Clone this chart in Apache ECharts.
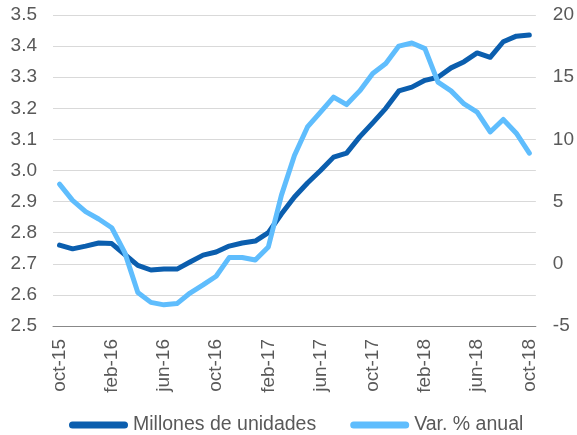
<!DOCTYPE html>
<html>
<head>
<meta charset="utf-8">
<script src="https://cdn.jsdelivr.net/npm/echarts@6/dist/echarts.min.js"></script>
<style>
  html, body { margin: 0; padding: 0; background: #fff; }
  #chart { width: 577px; height: 435px; }
</style>
</head>
<body>
<div id="chart"></div>
<script>
"use strict";

// months oct-15 .. oct-18
var months = ['oct-15','nov-15','dic-15','ene-16','feb-16','mar-16','abr-16','may-16','jun-16','jul-16','ago-16','sep-16',
  'oct-16','nov-16','dic-16','ene-17','feb-17','mar-17','abr-17','may-17','jun-17','jul-17','ago-17','sep-17',
  'oct-17','nov-17','dic-17','ene-18','feb-18','mar-18','abr-18','may-18','jun-18','jul-18','ago-18','sep-18','oct-18'];

var millones = [2.76, 2.748, 2.757, 2.767, 2.765, 2.73, 2.695, 2.68, 2.683, 2.683, 2.706, 2.728,
  2.738, 2.757, 2.767, 2.773, 2.80, 2.86, 2.915, 2.96, 3.0, 3.043, 3.056, 3.108,
  3.153, 3.20, 3.256, 3.268, 3.29, 3.30, 3.33, 3.35, 3.378, 3.364, 3.414, 3.432, 3.436];

var varAnual = [6.4, 5.1, 4.2, 3.6, 2.9, 0.9, -2.3, -3.1, -3.3, -3.2, -2.35, -1.7,
  -1.0, 0.5, 0.5, 0.3, 1.35, 5.5, 8.7, 11.0, 12.2, 13.4, 12.8, 13.9,
  15.3, 16.1, 17.5, 17.75, 17.3, 14.6, 13.9, 12.85, 12.2, 10.6, 11.6, 10.5, 8.9];

var seriesNames = ['Millones de unidades', 'Var. % anual'];

var txtColor = '#595959';
var font = '"Liberation Sans", Arial, sans-serif';
var pill = 'path://M3.5,0 H55.5 A3.5,3.5 0 0 1 55.5,7 H3.5 A3.5,3.5 0 0 1 3.5,0 Z';

var chart = echarts.init(document.getElementById('chart'));
var option = {
  animation: false,
  color: ['#0b5eae', '#5fbdfd'],
  grid: { left: 53, right: 40, top: 15, bottom: 109 },
  legend: {
    top: 410,
    left: 64,
    itemWidth: 59,
    itemHeight: 7,
    itemGap: 34,
    icon: pill,
    textStyle: { color: txtColor, fontFamily: font, fontSize: 19.5 },
    data: seriesNames
  },
  xAxis: {
    type: 'category',
    data: months,
    boundaryGap: true,
    axisLine: { onZero: false, lineStyle: { color: '#888', width: 1 } },
    axisTick: { interval: 3, length: 6, lineStyle: { color: '#888' } },
    axisLabel: {
      interval: 3,
      rotate: 90,
      margin: 13,
      color: txtColor,
      fontFamily: font,
      fontSize: 19
    }
  },
  yAxis: [{
    type: 'value',
    min: 2.5, max: 3.5, interval: 0.1,
    axisLine: { show: false },
    axisTick: { show: false },
    axisLabel: {
      margin: 16, color: txtColor, fontFamily: font, fontSize: 19,
      formatter: function (v) { return v.toFixed(1); }
    },
    splitLine: { lineStyle: { color: '#d9d9d9', width: 1 } }
  }, {
    type: 'value',
    min: -5, max: 20, interval: 5,
    axisLine: { show: false },
    axisTick: { show: false },
    axisLabel: { margin: 17, color: txtColor, fontFamily: font, fontSize: 19 },
    splitLine: { show: false }
  }],
  series: [{
    name: seriesNames[0],
    type: 'line',
    yAxisIndex: 0,
    data: millones,
    symbol: 'none',
    lineStyle: { width: 5, cap: 'round', join: 'round' }
  }, {
    name: seriesNames[1],
    type: 'line',
    yAxisIndex: 1,
    data: varAnual,
    symbol: 'none',
    lineStyle: { width: 5, cap: 'round', join: 'round' }
  }]
};
chart.setOption(option);
</script>
</body>
</html>
